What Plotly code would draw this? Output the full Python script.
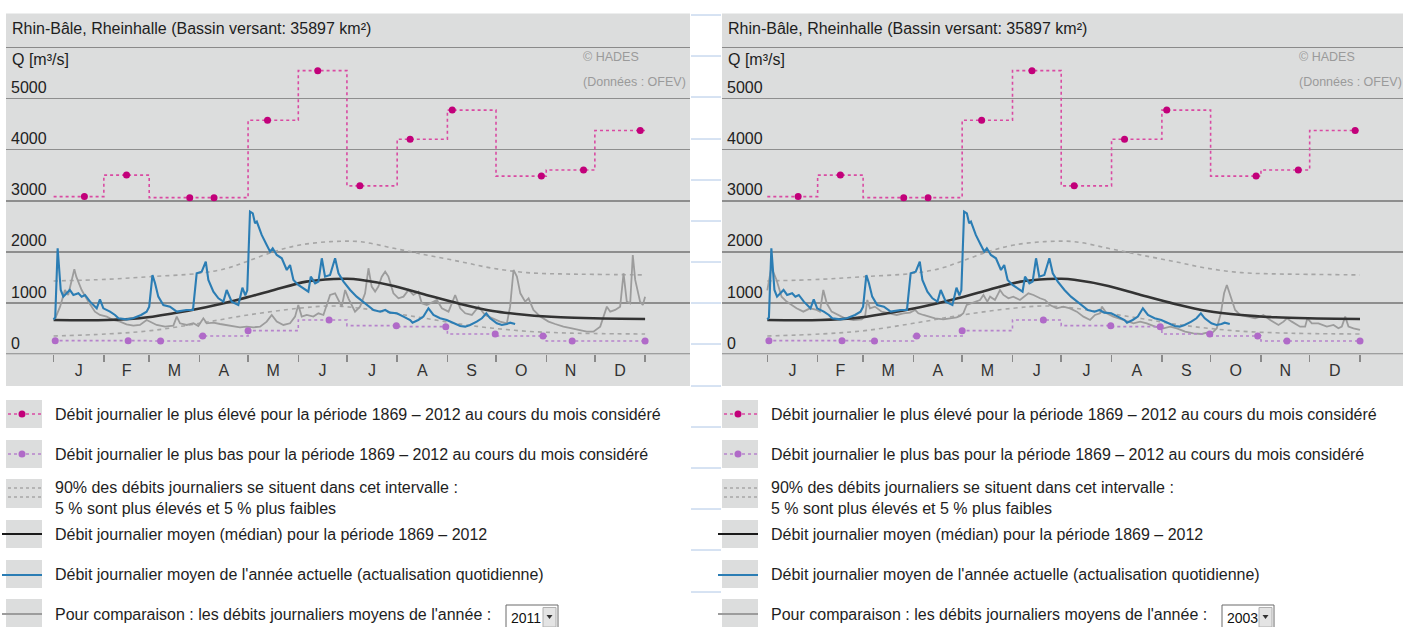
import plotly.graph_objects as go

# ---------------- data ----------------
MONTH_LABELS = ["J", "F", "M", "A", "M", "J", "J", "A", "S", "O", "N", "D"]
MONTH_EDGES = [0, 31, 59, 90, 120, 151, 181, 212, 243, 273, 304, 334, 365]
Y_TICKS = [0, 1000, 2000, 3000, 4000, 5000]
Y_TICK_TEXT = ["0", "1000", "2000", "3000", "4000", "5000"]

# highest daily flow of each month 1869-2012 and day of occurrence
MAX_Q = [3080, 3500, 3060, 3060, 4570, 5540, 3290, 4200, 4770, 3480, 3600, 4370]
MAX_DAY = [19, 45, 84, 99, 132, 163, 189, 220, 246, 301, 327, 362]
# lowest daily flow of each month 1869-2012 and day of occurrence
MIN_Q = [267, 267, 260, 358, 462, 670, 560, 540, 397, 358, 260, 260]
MIN_DAY = [1, 46, 66, 92, 120, 170, 211.5, 242, 272.5, 302, 320, 365]

# 90 % interval
P95_DAY = [0, 33, 60, 90, 107, 119, 136, 152, 171, 189, 210, 230, 251, 271, 292, 313, 333, 365]
P95_Q = [1432, 1465, 1517, 1582, 1680, 1810, 2005, 2135, 2200, 2200, 2070, 1940, 1810, 1680, 1595, 1570, 1562, 1550]
P5_DAY = [0, 33, 60, 90, 120, 151, 171, 189, 210, 230, 251, 271, 292, 313, 333, 365]
P5_Q = [358, 397, 462, 605, 768, 898, 944, 900, 800, 700, 590, 510, 450, 420, 405, 397]

# median daily flow
MED_DAY = [0, 33, 53, 74, 94, 115, 136, 156, 173, 181, 189, 210, 230, 251, 271, 292, 313, 333, 365]
MED_Q = [670, 670, 703, 800, 918, 1074, 1256, 1419, 1471, 1475, 1455, 1335, 1159, 983, 846, 768, 723, 703, 690]

# current year (blue)
CUR_DAY = [0, 1, 2.5, 4.4, 6, 8, 10, 12.2, 15.3, 17.3, 19.4, 22.5, 26.6, 28.6, 30.7, 34.8, 37.9, 40,
           45, 49, 54, 57.4, 59, 61, 62.6, 64.6, 67.7, 71.8, 76, 82, 86, 88.3, 91.4, 93.9, 95.5, 98.6,
           101.7, 104.8, 106.8, 109.9, 114, 116.5, 118.3, 119.5, 121.2, 122.9, 124.3, 125.4, 128.4,
           131.5, 133.6, 135.2, 137.7, 140.8, 143.9, 145.9, 148, 151, 154.1, 157.2, 158.7, 161.4,
           163.4, 165.5, 167.5, 170.6, 173.7, 175.8, 178.9, 183, 187, 191, 194, 197.4, 201.5, 204.6,
           207.6, 211.8, 215.9, 220, 221.5, 225, 228.2, 231.3, 234.4, 238.5, 242.6, 246.8, 250.9,
           254, 257, 261.1, 264.3, 267, 269.4, 273.5, 276.6, 279.7, 281.7, 284.8]
CUR_Q = [680, 720, 2070, 1256, 1126, 1191, 1256, 1159, 1191, 1126, 1159, 1029, 898, 1074, 898, 833, 768, 703,
         683, 703, 768, 833, 931, 1549, 1387, 1126, 963, 931, 833, 866, 866, 1582, 1614, 1810, 1452, 1224,
         1094, 1029, 1256, 1029, 963, 1300, 1150, 1250, 2786, 2754, 2558, 2591, 2331,
         2135, 2005, 2070, 1940, 1875, 1647, 1745, 1452, 1354, 1289, 1224, 1517, 1387,
         1419, 1875, 1517, 1549, 1875, 1582, 1419, 1256, 1126, 1029, 940, 866, 833, 866,
         814, 801, 736, 670, 618, 670, 736, 898, 768, 703, 670, 605, 553,
         540, 573, 638, 703, 801, 703, 605, 573, 592, 618, 592]

# comparison year 2011 (left panel, grey)
Y2011_DAY = [1, 4, 7, 9, 12.8, 14, 17.3, 21.4, 25.5, 28.6, 32.8, 36.9, 41, 45, 49.2, 53.3, 57.4, 59.5, 63.6,
             68.8, 73.9, 76, 78, 82.1, 86.3, 89.3, 92.4, 94.5, 98.6, 102.7, 106.8, 111, 115, 119.2, 123.3,
             127.4, 131.5, 134.6, 137.7, 141.8, 145.9, 149, 151, 153.1, 156.2, 160.3, 163.4, 166.5, 168.6,
             170.6, 173.7, 175.8, 177.8, 179.9, 181.9, 186, 189.1, 192.2, 194.3, 196.3, 198.4, 200.4, 202.5,
             204.6, 206.6, 209.7, 212.8, 215.9, 219, 222, 225.1, 227.2, 230.3, 236.5, 239.6, 243.7, 247.8,
             250.9, 254, 258.1, 262.2, 266.3, 270.4, 275.5, 279.7, 281.7, 283.8, 285.9, 288, 291, 293.1,
             296.1, 300.3, 305.4, 309.5, 314.6, 319.8, 324.9, 329, 333.1, 337.3, 341.4, 343.5, 346.5, 349.6,
             351.7, 353.7, 355.8, 357.4, 358.9, 361.9, 363.6, 365]
Y2011_Q = [700, 930, 1256, 1159, 1660, 1517, 1256, 1029, 833, 768, 736, 670, 638, 586, 560, 573, 670, 638, 573,
           540, 560, 736, 605, 573, 605, 553, 703, 605, 618, 592, 573, 540, 527, 540, 527,
           540, 638, 768, 638, 573, 605, 736, 963, 736, 768, 736, 801, 768, 963,
           1159, 1191, 1061, 931, 1256, 1094, 833, 931, 1191, 1680, 1322, 1224, 1322, 1517,
           1614, 1517, 1191, 1094, 1126, 1256, 1159, 1224, 996, 963, 1061, 898, 833, 1159,
           898, 801, 768, 931, 768, 703, 638, 605, 931, 1647, 1517, 1191, 1029, 1094,
           866, 736, 638, 592, 540, 508, 475, 443, 443, 540, 931, 833, 866, 931,
           1582, 1029, 996, 1940, 1452, 1029, 963, 1126]

# comparison year 2003 (right panel, grey)
Y2003_DAY = [0, 2.5, 5.7, 8.8, 11.9, 15, 18, 22.2, 26.3, 30.4, 32.4, 34.5, 36.6, 39.6, 43.7, 47.8, 53, 58.1,
             60.2, 61.6, 63.2, 66.3, 70.4, 75.6, 79.7, 83.8, 87.9, 91, 93, 96.1, 99.2, 103.3, 108.4, 112.5,
             116.6, 118.7, 120.7, 122.8, 125.9, 129, 131, 133.1, 135.5, 137.2, 140.2, 142.3, 143.3, 145.4,
             148.5, 151.5, 155.6, 160.8, 163.9, 168, 171, 174.1, 178.2, 182.3, 186.4, 190.6, 194.7, 198.8,
             201.8, 204.9, 206, 209, 213.1, 219.3, 225.5, 229.6, 233.7, 238.8, 244, 248.1, 252.2, 257.3,
             262.4, 267.6, 270.6, 273.7, 276.8, 279.3, 281.3, 283, 284.6, 286, 288.1, 291.2, 295.3, 300.4,
             303.5, 305.5, 309.7, 314.8, 317.9, 320, 323, 328.1, 331.2, 332.6, 335.3, 339.4, 344.6, 348.7,
             351.7, 353.8, 355.9, 357.9, 361, 365]
Y2003_Q = [1250, 1700, 1452, 1126, 1029, 963, 898, 833, 898, 866, 833, 1256, 996, 833, 768, 703, 670, 683,
           736, 1061, 898, 931, 833, 801, 768, 801, 814, 866, 801, 768, 736, 703, 683, 703,
           723, 749, 801, 963, 996, 1029, 1061, 1159, 1029, 1126, 1061, 1191, 1256, 1159,
           1094, 1126, 1061, 1191, 1159, 1094, 1061, 963, 898, 931, 898, 833, 736, 670,
           768, 801, 931, 801, 736, 670, 605, 638, 605, 540, 508, 540, 508, 443,
           410, 397, 423, 410, 508, 801, 1191, 1354, 1191, 1061, 866, 768, 736, 703,
           736, 768, 670, 573, 638, 703, 638, 540, 540, 703, 605, 605, 540, 573,
           508, 540, 736, 540, 508, 475]

TITLE = "Rhin-Bâle, Rheinhalle (Bassin versant: 35897 km²)"
LEGEND_TEXTS = [
    "Débit journalier le plus élevé pour la période 1869 – 2012 au cours du mois considéré",
    "Débit journalier le plus bas pour la période 1869 – 2012 au cours du mois considéré",
    "90% des débits journaliers se situent dans cet intervalle :",
    "5 % sont plus élevés et 5 % plus faibles",
    "Débit journalier moyen (médian) pour la période 1869 – 2012",
    "Débit journalier moyen de l'année actuelle (actualisation quotidienne)",
    "Pour comparaison : les débits journaliers moyens de l'année :",
]

# ---------------- layout helpers ----------------
W, H = 1403, 627
FONT = "Liberation Sans, Arial, Helvetica, sans-serif"
BG = "#dcdddd"
GRID = "#8e8e8e"
C_MAX_LINE, C_MAX_DOT = "#d94aa2", "#c2007a"
C_MIN_LINE, C_MIN_DOT = "#b683cc", "#b06ac8"
C_BAND = "#a6a6a6"
C_MED = "#333333"
C_CUR = "#2b7db4"
C_CMP = "#9c9c9c"


def px(x):
    return x / W


def py(y):
    return 1 - y / H


month_mids = [(MONTH_EDGES[i] + MONTH_EDGES[i + 1]) / 2 for i in range(12)]

PANELS = [
    dict(left=6, right=690, d0=53.6, d365=645.1, xa="x", ya="y", dx=0,
         cmp_day=Y2011_DAY, cmp_q=Y2011_Q, year="2011"),
    dict(left=722, right=1403, d0=767.3, d365=1360.0, xa="x2", ya="y2", dx=716,
         cmp_day=Y2003_DAY, cmp_q=Y2003_Q, year="2003"),
]

fig = go.Figure()
shapes = []
annotations = []
layout_axes = {}

for i, P in enumerate(PANELS):
    common = dict(xaxis=P["xa"], yaxis=P["ya"], hoverinfo="skip", showlegend=False)
    # 90% band
    fig.add_trace(go.Scatter(x=P95_DAY, y=P95_Q, mode="lines",
                             line=dict(color=C_BAND, width=1.6, dash="4px,4px", shape="spline"), **common))
    fig.add_trace(go.Scatter(x=P5_DAY, y=P5_Q, mode="lines",
                             line=dict(color=C_BAND, width=1.6, dash="4px,4px", shape="spline"), **common))
    # comparison year
    fig.add_trace(go.Scatter(x=P["cmp_day"], y=P["cmp_q"], mode="lines",
                             line=dict(color=C_CMP, width=1.8), **common))
    # median
    fig.add_trace(go.Scatter(x=MED_DAY, y=MED_Q, mode="lines",
                             line=dict(color=C_MED, width=2.6, shape="spline"), **common))
    # current year
    fig.add_trace(go.Scatter(x=CUR_DAY, y=CUR_Q, mode="lines",
                             line=dict(color=C_CUR, width=2.1), **common))
    # monthly minimum
    fig.add_trace(go.Scatter(x=MONTH_EDGES, y=MIN_Q + [MIN_Q[-1]], mode="lines",
                             line=dict(color=C_MIN_LINE, width=1.6, dash="3px,3px", shape="hv"), **common))
    fig.add_trace(go.Scatter(x=MIN_DAY, y=MIN_Q, mode="markers",
                             marker=dict(color=C_MIN_DOT, size=7), **common))
    # monthly maximum
    fig.add_trace(go.Scatter(x=MONTH_EDGES, y=MAX_Q + [MAX_Q[-1]], mode="lines",
                             line=dict(color=C_MAX_LINE, width=1.6, dash="3px,3px", shape="hv"), **common))
    fig.add_trace(go.Scatter(x=MAX_DAY, y=MAX_Q, mode="markers",
                             marker=dict(color=C_MAX_DOT, size=7), **common))

    scale = (P["d365"] - P["d0"]) / 365.0
    xr = [(P["left"] - P["d0"]) / scale, (P["right"] - P["d0"]) / scale]
    xkey = "xaxis" if i == 0 else "xaxis2"
    ykey = "yaxis" if i == 0 else "yaxis2"
    layout_axes[xkey] = dict(
        domain=[px(P["left"]), min(1.0, px(P["right"]))], range=xr, anchor=P["ya"],
        tickmode="array", tickvals=month_mids, ticktext=MONTH_LABELS, ticks="",
        tickfont=dict(family=FONT, size=16, color="#333333"), ticklabelstandoff=5,
        showgrid=False, zeroline=False, showline=False, fixedrange=True,
        minor=dict(tickmode="array", tickvals=MONTH_EDGES, ticks="outside", ticklen=7,
                   tickcolor="#8a8a8a", tickwidth=1.5, showgrid=False),
    )
    layout_axes[ykey] = dict(
        domain=[py(354.3), py(47.1)], range=[0, 6000], anchor=P["xa"],
        tickmode="array", tickvals=Y_TICKS, ticktext=Y_TICK_TEXT, ticks="",
        ticklabelposition="inside top", tickfont=dict(family=FONT, size=16, color="#222222"),
        ticklabelstandoff=2,
        showgrid=True, gridcolor=GRID, gridwidth=1.6, zeroline=False, showline=False,
        fixedrange=True,
    )

    L, R, dx = P["left"], P["right"], P["dx"]
    # grey panel
    shapes.append(dict(type="rect", xref="paper", yref="paper", x0=px(L), x1=min(1.0, px(R)),
                       y0=py(386), y1=py(13.5), fillcolor=BG, line=dict(width=0), layer="below"))
    # header separator and base line
    for yv in (6000, 0):
        shapes.append(dict(type="line", xref="paper", yref=P["ya"], x0=px(L), x1=min(1.0, px(R)),
                           y0=yv, y1=yv, line=dict(color="#8a8a8a", width=2)))
    # texts in chart
    annotations += [
        dict(text=TITLE, x=px(10 + dx), y=py(28), font=dict(family=FONT, size=16, color="#1e1e1e")),
        dict(text="Q [m³/s]", x=px(10 + dx), y=py(59), font=dict(family=FONT, size=16, color="#1e1e1e")),
        dict(text="© HADES", x=px(581 + dx), y=py(57), font=dict(family=FONT, size=12.5, color="#9a9a9a")),
        dict(text="(Données : OFEV)", x=px(581 + dx), y=py(82),
             font=dict(family=FONT, size=12.5, color="#9a9a9a")),
    ]

    # legend block
    rows = [(400, 428), (440, 468), (479, 508), (520, 548), (560, 588), (599, 627)]
    for (a, b) in rows:
        shapes.append(dict(type="rect", xref="paper", yref="paper", x0=px(L), x1=px(L + 36),
                           y0=py(b), y1=py(a), fillcolor=BG, line=dict(width=0), layer="below"))
    # icons
    shapes.append(dict(type="line", xref="paper", yref="paper", x0=px(L + 2), x1=px(L + 36),
                       y0=py(414), y1=py(414), line=dict(color=C_MAX_LINE, width=1.6, dash="3px,3px")))
    shapes.append(dict(type="circle", xref="paper", yref="paper", x0=px(L + 12.5), x1=px(L + 19.5),
                       y0=py(417.5), y1=py(410.5), fillcolor=C_MAX_DOT, line=dict(width=0)))
    shapes.append(dict(type="line", xref="paper", yref="paper", x0=px(L + 2), x1=px(L + 36),
                       y0=py(454), y1=py(454), line=dict(color=C_MIN_LINE, width=1.6, dash="3px,3px")))
    shapes.append(dict(type="circle", xref="paper", yref="paper", x0=px(L + 12.5), x1=px(L + 19.5),
                       y0=py(457.5), y1=py(450.5), fillcolor=C_MIN_DOT, line=dict(width=0)))
    for yy in (488, 497):
        shapes.append(dict(type="line", xref="paper", yref="paper", x0=px(L + 2), x1=px(L + 36),
                           y0=py(yy), y1=py(yy), line=dict(color=C_BAND, width=1.4, dash="3px,3px")))
    for yy, col in ((534, "#1a1a1a"), (575, C_CUR), (614, C_CMP)):
        shapes.append(dict(type="line", xref="paper", yref="paper", x0=px(L - 4), x1=px(L + 36),
                           y0=py(yy), y1=py(yy), line=dict(color=col, width=2)))
    text_y = [414, 454, 487, 508, 534, 574, 614]
    for t, yy in zip(LEGEND_TEXTS, text_y):
        annotations.append(dict(text=t, x=px(L + 47), y=py(yy),
                                font=dict(family=FONT, size=16, color="#1e1e1e")))
    # year drop-down
    shapes.append(dict(type="rect", xref="paper", yref="paper", x0=px(L + 500), x1=px(L + 552),
                       y0=py(635), y1=py(605), fillcolor="white", line=dict(color="#6a6a6a", width=1)))
    shapes.append(dict(type="rect", xref="paper", yref="paper", x0=px(L + 537), x1=px(L + 550),
                       y0=py(627), y1=py(607.5), fillcolor="#e4e4e4", line=dict(color="#b0b0b0", width=1)))
    shapes.append(dict(type="path", xref="paper", yref="paper",
                       path=f"M {px(L + 540.5)} {py(615)} L {px(L + 546.5)} {py(615)} L {px(L + 543.5)} {py(619)} Z",
                       fillcolor="#333333", line=dict(width=0)))
    annotations.append(dict(text=P["year"], x=px(L + 503), y=py(618),
                            font=dict(family=FONT, size=14, color="#111111")))

# thin light-blue separator strokes between the panels
for yy in [15, 56, 97, 139, 180, 221, 262, 303, 344, 386, 427, 468, 509, 550, 592]:
    shapes.append(dict(type="line", xref="paper", yref="paper", x0=px(691), x1=px(721),
                       y0=py(yy), y1=py(yy), line=dict(color="#aec6e6", width=1)))

for a in annotations:
    a.update(xref="paper", yref="paper", xanchor="left", yanchor="middle", showarrow=False)

fig.update_layout(
    width=W, height=H, autosize=False,
    margin=dict(l=0, r=0, t=0, b=0, pad=0),
    paper_bgcolor="white", plot_bgcolor="rgba(0,0,0,0)",
    showlegend=False, shapes=shapes, annotations=annotations,
    font=dict(family=FONT),
    **layout_axes,
)

fig.write_html(
    "out.html",
    config={"displayModeBar": False, "staticPlot": True},
    post_script="document.body.style.margin='0';document.body.style.padding='0';"
                "document.body.style.overflow='hidden';",
)
